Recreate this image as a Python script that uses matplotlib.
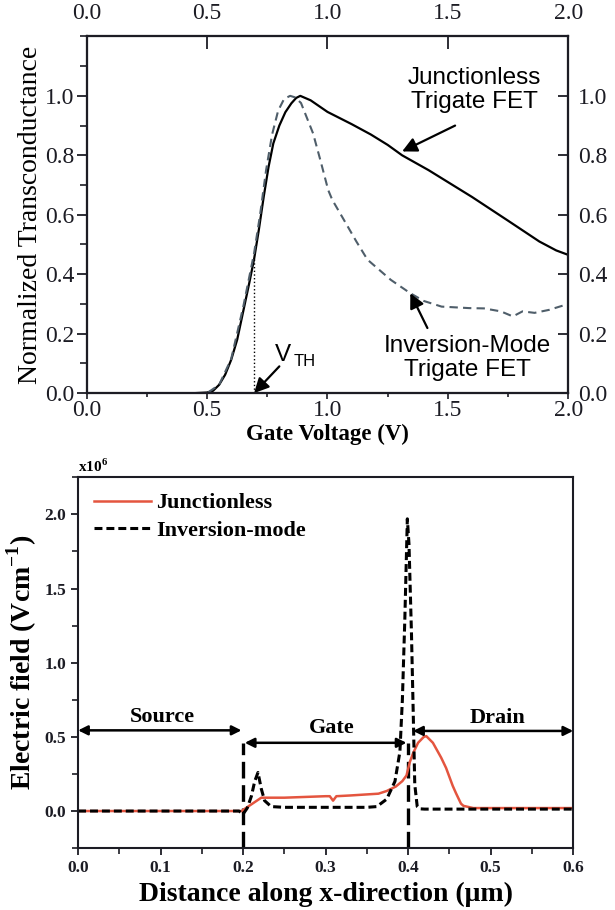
import matplotlib
matplotlib.use("Agg")
import matplotlib.pyplot as plt
from matplotlib.ticker import MultipleLocator

plt.rcParams['font.family'] = ['Liberation Serif', 'DejaVu Serif']
plt.rcParams['mathtext.fontset'] = 'custom'
plt.rcParams['mathtext.rm'] = 'Liberation Serif'
plt.rcParams['mathtext.bf'] = 'Liberation Serif:bold'

# --- top panel: normalized transconductance vs gate voltage
vg_jl = [0.0, 0.3, 0.45, 0.5, 0.525, 0.55, 0.575, 0.6, 0.625, 0.65, 0.675, 0.695, 0.715, 0.735,
         0.755, 0.775, 0.8, 0.825, 0.85, 0.87, 0.887, 0.93, 1.0, 1.1, 1.18, 1.25, 1.31, 1.42,
         1.5, 1.6, 1.75, 1.88, 1.95, 2.0]
gm_jl = [0.0, 0.0, 0.0, 0.002, 0.008, 0.028, 0.062, 0.112, 0.18, 0.275, 0.37, 0.45, 0.55, 0.66,
         0.76, 0.84, 0.9, 0.945, 0.975, 0.993, 1.0, 0.985, 0.946, 0.905, 0.87, 0.835, 0.80, 0.75,
         0.71, 0.66, 0.58, 0.51, 0.48, 0.465]
vg_im = [0.0, 0.3, 0.5, 0.55, 0.6, 0.65, 0.695, 0.72, 0.745, 0.77, 0.795, 0.82, 0.845, 0.865,
         0.89, 0.94, 0.97, 1.003, 1.02, 1.068, 1.12, 1.166, 1.263, 1.344, 1.4, 1.474, 1.588,
         1.65, 1.72, 1.77, 1.81, 1.86, 1.92, 2.0]
gm_im = [0.0, 0.0, 0.0, 0.028, 0.115, 0.29, 0.47, 0.6, 0.75, 0.87, 0.95, 0.99, 1.0, 0.995,
         0.976, 0.874, 0.785, 0.683, 0.65, 0.583, 0.51, 0.449, 0.381, 0.336, 0.31, 0.291, 0.286,
         0.285, 0.275, 0.258, 0.275, 0.27, 0.28, 0.30]
v_th = 0.695
gm_th = 0.45

# --- bottom panel: electric field along x
x_jl = [0.0, 0.195, 0.198, 0.21, 0.222, 0.25, 0.3, 0.305, 0.309, 0.313, 0.33, 0.364, 0.374,
        0.385, 0.393, 0.398, 0.402, 0.406, 0.412, 0.419, 0.422, 0.43, 0.44, 0.446, 0.454, 0.458,
        0.464, 0.467, 0.479, 0.5, 0.6]
e_jl = [0.0, 0.0, 0.0, 0.045, 0.09, 0.09, 0.1, 0.1, 0.07, 0.1, 0.105, 0.117, 0.135, 0.165,
        0.202, 0.24, 0.33, 0.39, 0.46, 0.5, 0.505, 0.46, 0.36, 0.29, 0.17, 0.12, 0.05, 0.035,
        0.02, 0.02, 0.02]
x_im = [0.0, 0.195, 0.2, 0.205, 0.21, 0.214, 0.218, 0.222, 0.226, 0.234, 0.25, 0.3, 0.35, 0.362,
        0.374, 0.384, 0.39, 0.393, 0.396, 0.399, 0.401, 0.404, 0.406, 0.408, 0.411, 0.414,
        0.42, 0.5, 0.6]
e_im = [0.0, 0.0, -0.02, 0.02, 0.1, 0.2, 0.26, 0.15, 0.07, 0.03, 0.025, 0.025, 0.025, 0.03,
        0.08, 0.2, 0.4, 0.75, 1.3, 1.97, 1.8, 1.2, 0.7, 0.18, 0.03, 0.015, 0.013, 0.013, 0.013]
region_edges = [0.2, 0.4]
region_names = ["Source", "Gate", "Drain"]

ink = '#1c1c24'
red = '#e4553f'

fig = plt.figure(figsize=(6.15, 9.1), dpi=100)

# ============ top ============
ax = fig.add_axes([0.141, 0.568, 0.783, 0.392])
ax.plot(vg_jl, gm_jl, color='black', lw=1.6)
ax.plot(vg_im, gm_im, color='#4f5e6a', lw=1.5, ls=(0, (4, 2.5)))
ax.plot([v_th, v_th], [0, gm_th], color='black', lw=1.0, ls=':')
ax.set_xlim(0, 2.0)
ax.set_ylim(0, 1.2)
ax.set_yticks([0.0, 0.2, 0.4, 0.6, 0.8, 1.0])
ax.yaxis.set_minor_locator(MultipleLocator(0.1))
ax.xaxis.set_major_locator(MultipleLocator(0.5))
ax.xaxis.set_minor_locator(MultipleLocator(0.25))
ax.xaxis.set_major_formatter(plt.FormatStrFormatter('%.1f'))
ax.yaxis.set_major_formatter(plt.FormatStrFormatter('%.1f'))
ax.tick_params(axis='y', which='major', direction='out', length=7, width=1.3, labelsize=17,
               pad=2, colors=ink)
ax.tick_params(axis='y', which='minor', direction='out', length=5, width=1.2, colors=ink)
ax.tick_params(axis='x', which='major', direction='out', length=4, width=1.2, labelsize=17,
               pad=1, colors=ink)
ax.tick_params(axis='x', which='minor', direction='out', length=3, width=1.2, colors=ink)
for s in ax.spines.values():
    s.set_linewidth(1.5)
    s.set_color(ink)
ax.set_ylabel("Normalized Transconductance", fontsize=20, labelpad=1)
ax.set_xlabel("Gate Voltage (V)", fontsize=16.5, fontweight='bold', labelpad=2)

axr = ax.twinx()
axr.set_ylim(0, 1.2)
axr.set_yticks([0.0, 0.2, 0.4, 0.6, 0.8, 1.0])
axr.yaxis.set_major_formatter(plt.FormatStrFormatter('%.1f'))
axr.tick_params(axis='y', direction='in', length=7, width=1.3, labelsize=17, pad=7, colors=ink)
axt = ax.twiny()
axt.set_xlim(0, 2.0)
axt.xaxis.set_major_locator(MultipleLocator(0.5))
axt.xaxis.set_major_formatter(plt.FormatStrFormatter('%.1f'))
axt.tick_params(axis='x', direction='in', length=9, width=1.3, labelsize=17, pad=9, colors=ink)
for a in (axr, axt):
    for s in a.spines.values():
        s.set_linewidth(1.5)
        s.set_color(ink)

sans = ['Liberation Sans', 'DejaVu Sans']
arrow_kw = dict(arrowstyle='-|>', color='black', lw=1.6, mutation_scale=22, shrinkA=0, shrinkB=0)
ax.text(1.61, 1.02, "Junctionless\nTrigate FET", family=sans, fontsize=17.5, ha='center',
        va='center', linespacing=1.15)
ax.annotate('', xy=(1.31, 0.813), xytext=(1.53, 0.90), arrowprops=arrow_kw)
ax.text(1.58, 0.118, "Inversion-Mode\nTrigate FET", family=sans, fontsize=17.5, ha='center',
        va='center', linespacing=1.15)
ax.annotate('', xy=(1.344, 0.336), xytext=(1.415, 0.219), arrowprops=arrow_kw)
ax.text(0.816, 0.128, "V", family=sans, fontsize=17.5, ha='center', va='center')
ax.text(0.86, 0.105, "TH", family=sans, fontsize=12, ha='left', va='center')
ax.annotate('', xy=(v_th, 0.0), xytext=(0.80, 0.09), arrowprops=arrow_kw)

# ============ bottom ============
bx = fig.add_axes([0.127, 0.068, 0.805, 0.4075])
for xe in region_edges:
    bx.plot([xe, xe], [-0.25, 0.46], color='black', lw=2.4, ls=(0, (5, 2)))
bx.plot(x_jl, e_jl, color=red, lw=1.8, label='Junctionless')
bx.plot(x_im, e_im, color='black', lw=2.2, ls=(0, (2.6, 1.3)), label='Inversion-mode')
bx.set_xlim(0, 0.6)
bx.set_ylim(-0.25, 2.25)
bx.xaxis.set_major_locator(MultipleLocator(0.1))
bx.xaxis.set_minor_locator(MultipleLocator(0.05))
bx.set_yticks([0.0, 0.5, 1.0, 1.5, 2.0])
bx.yaxis.set_minor_locator(MultipleLocator(0.25))
bx.xaxis.set_major_formatter(plt.FormatStrFormatter('%.1f'))
bx.yaxis.set_major_formatter(plt.FormatStrFormatter('%.1f'))
bx.tick_params(which='major', direction='out', length=5, width=1.3, labelsize=12.5, colors=ink)
bx.tick_params(which='minor', direction='out', length=4, width=1.2, colors=ink)
for lab in bx.get_xticklabels() + bx.get_yticklabels():
    lab.set_fontweight('bold')
for s in bx.spines.values():
    s.set_linewidth(1.5)
    s.set_color(ink)
bx.set_xlabel("Distance along x-direction (\u03bcm)", fontsize=20, fontweight='bold', labelpad=4)
bx.set_ylabel("Electric field (Vcm$^{\\mathbf{-1}}$)", fontsize=20, fontweight='bold', labelpad=4)
bx.text(0.0, 1.005, "x10$^{\\mathbf{6}}$", transform=bx.transAxes, fontsize=11,
        fontweight='bold', ha='left', va='bottom')
leg = bx.legend(loc='upper left', frameon=False, prop={'weight': 'bold', 'size': 16},
                handlelength=2.6, handletextpad=0.2, labelspacing=0.3,
                borderaxespad=0.3, bbox_to_anchor=(0.0, 1.0))

harrow = dict(arrowstyle='<|-|>', color='black', lw=1.8, mutation_scale=14, shrinkA=0, shrinkB=0)
bx.annotate('', xy=(0.0, 0.544), xytext=(0.198, 0.544), arrowprops=harrow)
bx.annotate('', xy=(0.202, 0.46), xytext=(0.398, 0.46), arrowprops=harrow)
bx.annotate('', xy=(0.406, 0.54), xytext=(0.6, 0.54), arrowprops=harrow)
bx.text(0.102, 0.634, region_names[0], fontsize=16, fontweight='bold', ha='center', va='center')
bx.text(0.307, 0.562, region_names[1], fontsize=16, fontweight='bold', ha='center', va='center')
bx.text(0.508, 0.63, region_names[2], fontsize=16, fontweight='bold', ha='center', va='center')

fig.savefig("out.png", dpi=100)
